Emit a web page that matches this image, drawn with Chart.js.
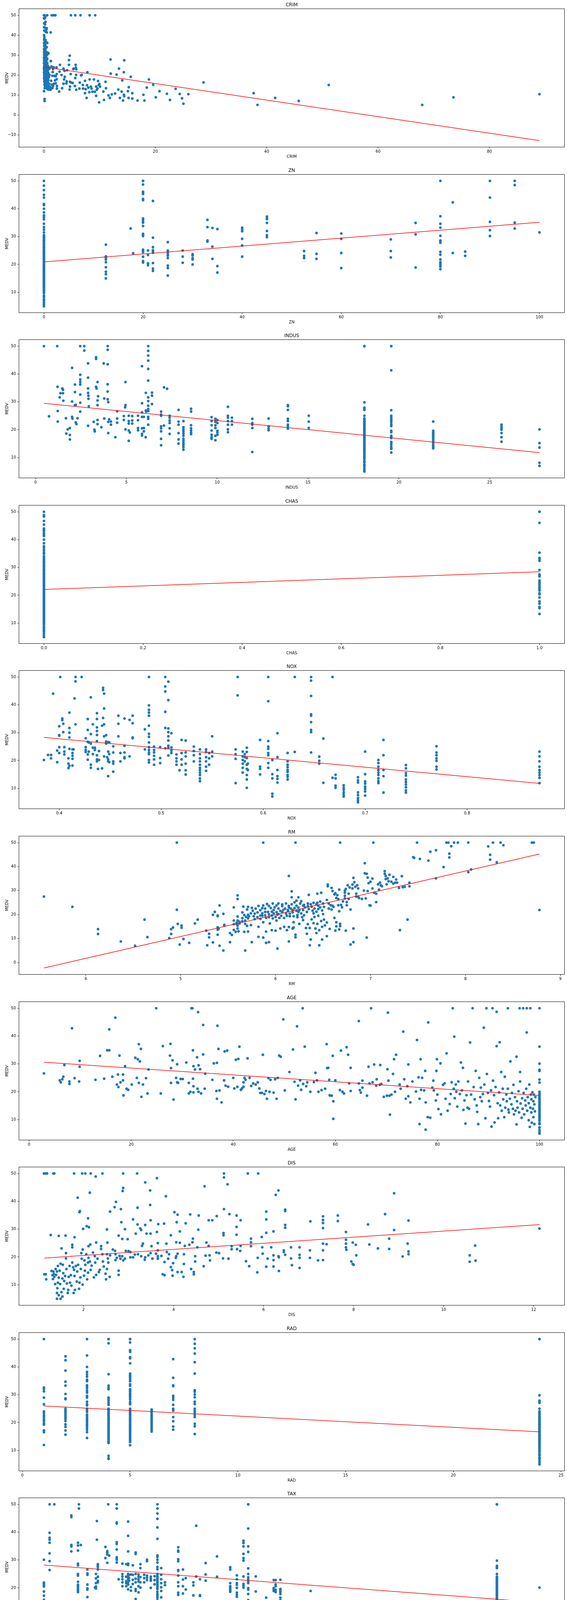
<!DOCTYPE html>
<html lang="en">
<head>
<meta charset="UTF-8">
<title>MEDV against each feature</title>
<script src="https://cdn.jsdelivr.net/npm/chart.js"></script>
<style>
  body { margin: 0; background: #fff; }
  #figure { position: relative; width: 1451px; height: 5497px; overflow: hidden; }
  .panel { position: absolute; left: 0; width: 1451px; height: 424px; }
</style>
</head>
<body>
<div id="figure"></div>
<script>
// ---- data (x = feature, y = MEDV) ----

// the 132 towns with INDUS 18.1 / RAD 24 / TAX 666 / PTRATIO 20.2 stack up in one column
const groupMedv = [50, 50, 29.8, 27.9, 27.5, 27.1, 25, 24, 23.7, 23.2, 23, 22.7, 22.2, 22, 21.7, 21.4, 21, 20.6, 20.4, 20.1,
  19.8, 19.4, 19.1, 18.8, 18.4, 18.1, 17.8, 17.4, 17.2, 16.8, 16.4, 16.1, 15.7, 15.4, 15.1, 14.9, 14.4, 14.1, 13.8, 13.4,
  13.1, 12.7, 12.5, 12.1, 11.8, 11.5, 11, 10.5, 10.2, 9.7, 9.5, 8.8, 8.5, 8.3, 7.5, 7.2, 7, 6.3, 5.6, 5];

const crimPts = [
  [0.01, 50], [0.12, 50], [0.59, 50], [1.41, 50], [1.59, 50], [1.88, 50], [2.06, 50], [4.85, 50], [5.63, 50], [6.57, 50], [8.21, 50], [9.21, 50],
  [0.02, 48.5], [0.1, 48.3], [0.25, 49], [0.05, 46], [0.2, 45.4], [0.3, 46.7], [0.03, 44], [0.15, 43.8], [0.5, 43.5], [0.45, 42.8], [0.06, 42.3],
  [0.35, 41.7], [0.02, 40], [0.08, 39], [0.05, 38], [0.1, 37.3], [0.3, 37.6], [0.2, 37], [0.4, 36.5], [0.6, 36.1], [0.04, 36], [0.12, 35.4],
  [0.25, 35], [0.06, 34.6], [0.5, 34], [0.15, 33.4], [0.02, 33], [0.3, 33.1], [0.08, 32.5], [0.2, 32], [0.45, 31.6], [0.03, 31.5], [0.7, 31],
  [0.12, 30.8], [0.35, 30.5], [0.8, 30.8], [0.05, 30.1], [0.25, 29.8], [0.55, 30], [0.1, 29.4], [0.4, 29], [0.02, 28.7], [0.2, 28.5], [0.6, 28.2],
  [0.07, 28], [0.3, 27.9], [0.15, 27.5], [0.5, 27.5], [1.25, 27], [0.04, 27.1], [0.25, 26.6], [0.4, 26.4], [0.1, 26.2], [0.6, 26], [0.02, 25.9],
  [0.2, 25.3], [0.35, 25], [0.5, 25], [0.08, 24.8], [0.7, 24.7], [0.15, 24.4], [0.3, 24.1], [1.35, 24.3], [0.04, 24], [0.45, 23.9], [0.9, 23.8],
  [0.2, 23.6], [0.6, 23.4], [0.1, 23.3], [0.35, 23.1], [1, 23.2], [0.02, 23], [0.25, 22.9], [0.5, 22.7], [0.75, 22.6], [0.12, 22.5], [0.4, 22.2],
  [0.06, 22], [0.3, 21.9], [0.65, 21.7], [0.18, 21.7], [0.5, 21.4], [1.59, 21.5], [0.03, 21.2], [0.28, 21.1], [0.8, 21], [0.1, 20.9], [0.45, 20.6],
  [0.2, 20.5], [0.6, 20.3], [0.05, 20.1], [0.35, 20], [1, 20], [0.15, 19.8], [0.5, 19.6], [1.52, 19.6], [0.25, 19.4], [0.7, 19.3], [0.08, 19.2],
  [0.4, 19.1], [0.2, 18.9], [0.9, 18.9], [0.55, 18.7], [0.12, 18.6], [0.3, 18.5], [0.04, 18.4], [0.65, 18.2], [0.22, 18.1], [0.45, 18], [0.1, 17.8],
  [0.8, 17.5], [0.35, 17.4], [1.29, 17.1], [0.18, 17.2], [0.55, 17], [0.06, 16.8], [0.28, 16.6], [0.7, 16.5], [0.15, 16.3], [0.45, 16.1], [0.95, 15.6],
  [0.25, 15.6], [0.6, 15.4], [1.41, 15.2], [0.1, 15.2], [0.4, 15], [0.8, 14.8], [1.64, 14.5], [0.2, 14.5], [0.55, 14.4], [1.1, 14.1], [0.3, 13.9],
  [0.9, 13.8], [1.52, 13.5], [0.15, 13.4], [0.5, 13.3], [1.3, 13.1], [0.7, 12.8], [1.17, 12.6], [0.02, 11.9], [0.12, 8], [0.12, 7], [0.9, 12.7],
  [1.9, 19.6], [2, 17.3], [1.8, 15.6], [0.52, 41.4], [1.22, 41.4], [0.59, 36.1], [0.7, 30.9], [0.82, 31], [1.24, 27], [1.64, 23], [1.76, 23.9],
  [2.27, 23.8], [2.3, 20.5], [2.11, 19.4], [2.3, 17.9], [2.11, 15.8], [2.34, 14.5], [2.34, 13.2], [2.88, 25.1], [2.81, 21.7], [2.74, 11.7],
  [3.17, 20], [3.52, 23.2], [3.52, 15.6], [3.28, 13.4], [3.7, 22.1], [3.75, 19.1], [3.63, 17.8], [4.17, 22.4], [4.1, 16.8], [4.03, 15.8],
  [4.5, 27.5], [4.5, 25.1], [4.64, 29.7], [4.81, 20.5], [4.69, 16.6], [4.62, 12.7], [4.69, 14.2], [4.92, 16.2], [5.16, 16], [5.28, 23],
  [5.35, 23.2], [5.7, 25.1], [5.74, 23.7], [5.81, 22.9], [5.63, 18.5], [5.79, 20.1], [5.56, 14.5], [5.81, 12.6], [6.45, 16.2], [6.38, 13.2],
  [6.68, 19.8], [6.8, 20.1], [6.99, 15], [7.03, 13.2], [7.39, 17.1], [7.39, 10.9], [7.5, 12.9], [7.67, 8.5], [7.74, 14.9], [7.81, 21.4],
  [7.97, 13.7], [8.16, 11.4], [8.21, 17.8], [8.44, 14.2], [8.56, 13.2], [8.72, 11.6], [8.98, 17.8], [9.14, 11.6], [9.38, 14.2], [9.5, 12.6],
  [9.38, 9.6], [9.73, 17], [9.85, 14.9], [9.97, 15.5], [10.08, 14.2], [9.92, 6.3], [9.61, 13.2], [10.67, 11.7], [10.79, 7.5], [11.07, 16.6],
  [11.14, 13.4], [11.6, 9.8], [11.84, 8.5], [11.96, 27.8], [12, 20.7], [12.19, 10.3], [12.78, 10.7], [13.06, 20.2], [13.36, 12.7], [13.48, 23.2],
  [13.65, 8.5], [13.95, 11.7], [14.07, 17.3], [14.21, 7.2], [14.35, 21.4], [14.42, 27.4], [14.37, 10.1], [14.42, 9.4], [15.08, 11.9], [15.19, 8.5],
  [15.24, 13.9], [15.59, 19.1], [15.87, 10.9], [15.87, 8.2], [16.81, 7.2], [17.87, 10.1], [18.05, 7.2], [18.48, 13.7], [18.85, 17.8], [19.62, 15.1],
  [20.09, 8.8], [20.75, 11.9], [22.09, 10.6], [22.63, 7.5], [23.65, 13.1], [24.39, 10.5], [24.8, 8.3], [25.05, 5.6], [25.94, 10.4], [28.66, 16.3],
  [37.66, 10.9], [38.35, 5], [41.53, 8.5], [45.75, 7], [51.14, 15], [67.92, 5], [73.53, 8.8], [88.98, 10.4]
];

const znLevels = [0, 12.5, 17.5, 18, 20, 21, 22, 25, 28, 30, 33, 34, 35, 40, 45, 52.5, 55, 60, 70, 75, 80, 82.5, 85, 90, 95, 100];
const znMedv = [
  [50, 48.3, 46.7, 45, 44, 41.7, 41.3, 40, 38.7, 37.6, 37, 36.2, 34.6, 33.4, 32.5, 31.5, 30.5, 30.1, 29.8, 29.4, 29, 28.7, 28.4, 28, 27.5,
    27.1, 26.6, 26.2, 25.9, 25.4, 25, 24.7, 24.4, 24.1, 23.8, 23.4, 23.1, 22.8, 22.5, 22.2, 21.9, 21.6, 21.3, 21, 20.7, 20.4, 20.1, 19.8,
    19.5, 19.2, 18.9, 18.6, 18.3, 18, 17.7, 17.4, 17.1, 16.8, 16.5, 16.2, 15.9, 15.6, 15.3, 15, 14.7, 14.4, 14.1, 13.8, 13.5, 13.2, 12.9,
    12.6, 12.3, 12, 11.7, 11.3, 10.9, 10.5, 10.2, 9.7, 8.8, 8.3, 7.5, 7, 6.3, 5.6, 5],
  [27.1, 22.9, 22.3, 21.8, 20.8, 19, 17.4, 16.5, 15],
  [32.9],
  [24],
  [50, 50, 48.7, 46.1, 45.7, 45.3, 43.5, 43.1, 36.5, 36, 35.3, 35, 33.8, 31, 30.6, 30.2, 25.3, 24.8, 24.4, 22.8, 21.2, 20.7],
  [25, 23.4, 20.4, 19.7],
  [42.8, 29.6, 26.2, 25.1, 24.6, 24.2, 20.5, 18.5, 17.7],
  [28, 25, 24.4, 23.8, 23.2, 22.3, 19.6, 18.7, 16],
  [25, 22.8, 20.6],
  [23.7, 23.2, 22.2, 21.8, 20],
  [36, 33.4, 28.6, 28.2],
  [33.1, 26.4, 22],
  [32.7, 19.4, 17.1],
  [33.2, 32.6, 31.9, 29.2, 26.8, 22.8],
  [37.2, 36.6, 36.3, 34.9, 32, 30.5, 29.8],
  [24.8, 23.1, 22.3],
  [31.3, 23.8, 22],
  [31.1, 29.2, 24.1, 18.7],
  [29, 24.8, 22.5],
  [34.9, 30.8, 18.9],
  [50, 37.3, 34.6, 33.2, 30.3, 28.6, 28.3, 27.8, 24.5, 23.5, 21.8, 20.8, 20.3, 20, 19.3, 18.3],
  [42.3, 24.1],
  [24.6, 23.1],
  [50, 44, 35.3, 32.3, 30.2],
  [50, 48.5, 35, 32.9],
  [31.5]
];

const indusPts = [
  [0.46, 50], [0.74, 24.8], [1.19, 50], [1.21, 35.4], [1.22, 26.7], [1.22, 22.9], [1.33, 31.6], [1.37, 33.1], [1.47, 34.8], [1.51, 34.3],
  [1.51, 33.1], [1.53, 30.4], [1.67, 24.1], [1.69, 18.6], [1.77, 20.1], [1.89, 20.6], [1.89, 18.1], [1.89, 16.5], [2.01, 42.2], [2.01, 30.1],
  [2.01, 24.6], [2.03, 24], [2.17, 36.2], [2.17, 33.5], [2.17, 28.8], [2.21, 28.9], [2.21, 22.6], [2.25, 22], [2.31, 24.1], [2.46, 50],
  [2.46, 39.7], [2.46, 38], [2.46, 37.1], [2.46, 36.2], [2.46, 32.6], [2.46, 29.7], [2.46, 26.5], [2.68, 50], [2.68, 48.4], [2.89, 43.8],
  [2.89, 38.7], [2.89, 34.8], [2.89, 33.2], [2.91, 32.2], [2.91, 31.1], [2.93, 28.4], [2.89, 21.4], [3.2, 22.8], [3.24, 20], [3.26, 19.4],
  [3.33, 46], [3.33, 45.4], [3.33, 35.4], [3.36, 34.8], [3.41, 37.1], [3.41, 23.5], [3.41, 22], [3.44, 32], [3.41, 30.5], [3.41, 28.8],
  [3.62, 20.9], [3.78, 24], [3.75, 43.8], [3.78, 31.2], [3.97, 50], [3.97, 48.7], [3.97, 43.5], [3.97, 36.3], [3.97, 33.7], [3.97, 30.9],
  [4, 29.9], [4, 22.8], [4, 18.8], [4.05, 23.7], [4.15, 22.9], [4.15, 21.8], [4.39, 17.3], [4.49, 24], [4.49, 22.5], [4.49, 26.6], [4.86, 24.9],
  [4.86, 23.5], [4.95, 37.1], [4.95, 28.8], [4.93, 28], [4.95, 20.1], [5.13, 25], [5.13, 23.1], [5.13, 22.2], [5.13, 19.7], [5.19, 19],
  [5.13, 16], [5.32, 24.9], [5.32, 23.3], [5.32, 22.2], [5.64, 25], [5.64, 23.4], [5.64, 20.6], [5.64, 19.8], [5.86, 42.8], [5.86, 29.5],
  [5.86, 26.2], [5.86, 24.6], [5.86, 20.5], [5.86, 18.5], [5.86, 17.9], [5.96, 24.6], [5.96, 20.6], [5.96, 19.4], [6.06, 17.3], [6.07, 33.2],
  [6.07, 26.9], [6.09, 26.5], [6.2, 50], [6.2, 48.3], [6.2, 46.6], [6.2, 44.8], [6.2, 41.8], [6.2, 37.6], [6.2, 31.6], [6.2, 30.3],
  [6.2, 28.6], [6.2, 27.4], [6.2, 26.7], [6.2, 24.6], [6.2, 23.9], [6.2, 21.8], [6.41, 33.3], [6.41, 32.2], [6.41, 29.2], [7.07, 35.2],
  [7.24, 34.7], [6.91, 26.5], [6.91, 25.4], [6.91, 25], [6.91, 21.2], [6.91, 20.5], [6.91, 19.4], [6.91, 16.7], [6.91, 14.4], [7.07, 21.5],
  [7.38, 25], [7.38, 24.3], [7.38, 23.3], [7.38, 22.4], [7.38, 20.5], [7.38, 18.5], [7.87, 27.1], [7.87, 22.9], [7.87, 21.8], [7.87, 18.8],
  [7.87, 16.5], [7.87, 15], [8.14, 23.1], [8.14, 20.9], [8.14, 20.1], [8.14, 19.4], [8.14, 18.6], [8.14, 17.8], [8.14, 16.7], [8.14, 16],
  [8.14, 15.2], [8.14, 14.5], [8.14, 13.7], [8.14, 12.8], [8.56, 27.5], [8.56, 26.5], [8.56, 21.6], [8.56, 20.5], [8.56, 19.7], [8.56, 19],
  [8.56, 18.4], [9.69, 24.5], [9.69, 23.1], [9.69, 21.6], [9.69, 19.7], [9.69, 18.2], [9.69, 17.3], [9.69, 16.7], [9.9, 23.9], [9.9, 22.8],
  [9.9, 21.6], [9.9, 20.6], [9.9, 17.8], [9.9, 16.2], [10.01, 23.5], [10.01, 22.4], [10.01, 19.6], [10.01, 19], [10.01, 18.2], [10.59, 28.2],
  [10.59, 25], [10.59, 24.3], [10.59, 23.1], [10.59, 21.8], [10.59, 20.1], [10.59, 19.1], [10.81, 24.3], [10.81, 23.1], [10.81, 21.8],
  [11.93, 23.9], [11.93, 22.4], [11.93, 21.8], [11.93, 20.6], [11.93, 12], [12.83, 24], [12.83, 21.2], [12.83, 20.4], [12.83, 19.8],
  [13.89, 28.8], [13.89, 28.4], [13.89, 27.1], [13.89, 23.9], [13.89, 23.1], [13.89, 21.8], [13.89, 21.2], [13.89, 20.4], [15.04, 25],
  [15.04, 22.9], [15.04, 20.6]
];
const indusLevels = [18.1, 19.58, 21.89, 25.65, 27.74];
const indusMedv = [
  groupMedv,
  [50, 50, 41.3, 27, 25, 24.4, 23.8, 23.3, 22.7, 21.9, 21.3, 19.6, 19.1, 17.8, 17.4, 17, 15.6, 15.3, 14.6, 13.8, 13.4, 13.1, 11.8],
  [22.9, 19.6, 19.1, 18.7, 18.2, 17.8, 17.4, 16.8, 16.2, 15.6, 15.2, 14.5, 14.1, 13.6, 13.3],
  [21.8, 21.2, 20.5, 20, 18.8, 17.3, 15.7],
  [20.1, 15.2, 13.6, 8.1, 7]
];

const chasLevels = [0, 1];
const chasMedv = [
  [50, 48.8, 48.3, 46.7, 45.4, 44, 43.5, 43.1, 42.3, 41.7, 41.3, 40, 38.7, 37.6, 37, 36.2, 35.4, 34.9, 34, 33.4, 32.9, 32.4, 32, 31.6,
    31.1, 30.7, 30.3, 29.9, 29.4, 29.1, 28.7, 28.2, 27.9, 27.5, 27.1, 26.6, 26.3, 25.9, 25.5, 25.1, 24.7, 24.3, 23.9, 23.5, 23.1, 22.7,
    22.3, 21.9, 21.5, 21.1, 20.7, 20.3, 19.9, 19.5, 19.1, 18.7, 18.3, 17.9, 17.5, 17.1, 16.7, 16.3, 15.9, 15.5, 15.1, 14.7, 14.3, 13.9,
    13.5, 13.1, 12.7, 12.3, 11.9, 11.5, 11.1, 10.7, 10.3, 9.8, 9.5, 8.8, 8.4, 7.9, 7.4, 7, 6.3, 5.6, 5],
  [50, 50, 46, 35.3, 33.4, 33.1, 32.4, 29.1, 27.5, 27.1, 26.8, 25.3, 24.7, 24.1, 23.4, 22.8, 22.3, 21.7, 20.7, 20.4, 19.2, 17.8, 17, 15.8, 15.4, 13.3]
];

const noxPts = [
  [0.385, 20.2], [0.389, 22], [0.392, 22], [0.392, 20.8], [0.394, 44], [0.398, 19.4], [0.398, 23.6], [0.4, 32.3], [0.4, 29.1], [0.4, 28.9],
  [0.401, 50], [0.4, 24.8], [0.4, 22.7], [0.403, 35.1], [0.403, 34.5], [0.404, 33.2], [0.404, 30.2], [0.405, 24.8], [0.405, 23.2], [0.405, 22.2],
  [0.409, 17.3], [0.409, 20.8], [0.409, 18.9], [0.41, 18.1], [0.41, 37.2], [0.41, 31.7], [0.41, 30], [0.41, 28.3], [0.41, 24.2], [0.413, 24],
  [0.413, 22.7], [0.413, 21.7], [0.413, 20.6], [0.413, 18.2], [0.414, 24], [0.415, 42.3], [0.416, 50], [0.416, 48.4], [0.416, 33], [0.422, 50],
  [0.426, 28], [0.426, 24.8], [0.426, 23.1], [0.426, 23.8], [0.428, 34.9], [0.428, 31], [0.428, 26.7], [0.428, 22.2], [0.428, 20.3], [0.429, 23.2],
  [0.429, 26.5], [0.431, 42.7], [0.431, 29.5], [0.431, 26.1], [0.431, 18.5], [0.431, 17.4], [0.433, 33], [0.433, 22.3], [0.433, 24.6], [0.435, 24.6],
  [0.435, 23.8], [0.437, 37], [0.437, 34.9], [0.437, 31.9], [0.437, 30.6], [0.437, 29.2], [0.437, 27], [0.437, 21.9], [0.437, 20.4], [0.437, 19.7],
  [0.438, 17], [0.439, 23.4], [0.439, 20.2], [0.442, 17.2], [0.442, 32.5], [0.443, 46.1], [0.443, 45.3], [0.443, 35.3], [0.444, 44], [0.444, 38.7],
  [0.444, 33], [0.444, 28.7], [0.444, 21.5], [0.446, 29.1], [0.446, 26.8], [0.446, 26.1], [0.447, 21.2], [0.448, 20.4], [0.448, 19.7], [0.448, 26.6],
  [0.449, 26.5], [0.448, 23.2], [0.449, 22.3], [0.449, 19.4], [0.448, 14.4], [0.453, 25.1], [0.453, 22.9], [0.453, 19.7], [0.453, 18.9], [0.453, 16],
  [0.458, 36.1], [0.458, 33.2], [0.458, 28.7], [0.46, 22.7], [0.46, 19.7], [0.464, 35.1], [0.464, 25.3], [0.464, 22.9], [0.464, 21.2], [0.464, 20.8],
  [0.469, 34.6], [0.469, 21.5], [0.472, 36.1], [0.472, 33.4], [0.472, 28.3], [0.472, 28], [0.484, 31.2], [0.484, 24], [0.488, 50], [0.488, 39.8],
  [0.488, 38.2], [0.488, 37.2], [0.488, 36.1], [0.488, 32.5], [0.488, 29.6], [0.488, 28.5], [0.488, 26.5], [0.488, 24.8], [0.488, 23.8], [0.488, 22.9],
  [0.488, 22.3], [0.488, 20.2], [0.488, 19.3], [0.493, 25], [0.493, 23.8], [0.493, 22.9], [0.493, 21.7], [0.493, 20.4], [0.493, 18.5], [0.499, 24.8],
  [0.499, 20.9], [0.499, 19.1], [0.504, 50], [0.504, 46.6], [0.504, 44.8], [0.504, 37.5], [0.504, 31.7], [0.504, 24.4], [0.507, 48.3], [0.507, 41.7],
  [0.507, 31.5], [0.507, 30.2], [0.507, 28.7], [0.507, 27.2], [0.507, 25.3], [0.507, 24.6], [0.507, 21.8], [0.51, 29.8], [0.51, 24.7], [0.51, 23.6],
  [0.51, 22.7], [0.515, 22.2], [0.515, 20.8], [0.515, 19.7], [0.515, 18.5], [0.518, 16.5], [0.52, 27.4], [0.52, 22.7], [0.52, 20.4], [0.52, 18.5],
  [0.524, 27.2], [0.524, 22.9], [0.524, 21.5], [0.524, 18.9], [0.524, 16.5], [0.524, 15], [0.532, 25], [0.532, 23.4], [0.532, 21.9], [0.532, 19.7],
  [0.538, 24], [0.538, 22.3], [0.538, 20.8], [0.538, 19.7], [0.538, 18.5], [0.538, 17.4], [0.538, 16.6], [0.538, 15.7], [0.538, 14.8], [0.538, 13.6],
  [0.538, 12.6], [0.544, 24], [0.544, 23.1], [0.544, 21.2], [0.544, 19.7], [0.544, 17.8], [0.544, 16.3], [0.547, 22.7], [0.547, 20.8], [0.547, 18.5],
  [0.55, 28.7], [0.55, 23.2], [0.55, 21.5], [0.573, 24], [0.573, 22.3], [0.573, 20.6], [0.573, 11.9], [0.575, 50], [0.575, 43.4], [0.58, 23.2],
  [0.58, 21.5], [0.58, 20.2], [0.58, 18.9], [0.58, 17.4], [0.58, 15.7], [0.582, 22.3], [0.582, 21.2], [0.582, 19.7], [0.584, 24.6], [0.584, 23.1],
  [0.584, 20.9], [0.584, 18.5], [0.584, 17], [0.584, 14.8], [0.584, 13.2], [0.584, 10.2], [0.585, 18.9], [0.585, 16.6], [0.597, 17.8], [0.597, 17],
  [0.597, 15], [0.597, 27.4], [0.605, 50], [0.605, 41.3], [0.605, 27], [0.605, 25], [0.605, 24.2], [0.605, 22.7], [0.605, 21.9], [0.605, 19.1],
  [0.605, 17.4], [0.609, 20.2], [0.609, 15.1], [0.609, 13.6], [0.609, 8.1], [0.609, 7.1], [0.614, 29.8], [0.614, 21.2], [0.614, 16.6], [0.614, 14.4],
  [0.614, 13.4], [0.614, 12.1], [0.624, 22.7], [0.624, 19.7], [0.624, 18.5], [0.624, 17.6], [0.624, 16.6], [0.624, 15.9], [0.624, 14.8], [0.624, 14.2],
  [0.624, 13.2], [0.631, 50], [0.631, 23.1], [0.647, 50], [0.647, 48.7], [0.647, 43.2], [0.647, 36.6], [0.647, 36.1], [0.647, 33.8], [0.647, 31],
  [0.647, 30.2], [0.647, 22.9], [0.655, 21.4], [0.655, 19.9], [0.655, 18.9], [0.659, 27.9], [0.659, 12], [0.668, 50], [0.668, 13.8], [0.671, 14.9],
  [0.671, 13.6], [0.671, 11], [0.671, 10.2], [0.679, 11.1], [0.679, 10.2], [0.679, 9.5], [0.679, 8.6], [0.679, 7.8], [0.679, 7.1], [0.693, 14],
  [0.693, 12.9], [0.693, 12.1], [0.693, 8.6], [0.693, 7.6], [0.693, 6.5], [0.693, 5.7], [0.693, 5], [0.7, 23.2], [0.7, 15.1], [0.7, 12.5],
  [0.7, 11.7], [0.7, 10.6], [0.7, 9.8], [0.7, 8.9], [0.7, 7.4], [0.713, 20.2], [0.713, 19.1], [0.713, 17.8], [0.713, 16.6], [0.713, 15.7],
  [0.713, 14.8], [0.713, 13.6], [0.713, 12.6], [0.713, 11.9], [0.718, 27.4], [0.718, 21.9], [0.718, 16.6], [0.718, 14.4], [0.718, 8.5], [0.74, 18.4],
  [0.74, 17.2], [0.74, 15.5], [0.74, 14.6], [0.74, 13.2], [0.74, 12.3], [0.74, 11.4], [0.74, 10.4], [0.74, 9.3], [0.74, 8.5], [0.77, 25.1],
  [0.77, 22.9], [0.77, 21.9], [0.77, 20.8], [0.77, 19.9], [0.77, 17.8], [0.77, 16.8], [0.871, 23.2], [0.871, 21.5], [0.871, 19.7], [0.871, 17.8],
  [0.871, 16.6], [0.871, 15.7], [0.871, 14.8], [0.871, 13.8], [0.871, 11.9]
];

const rmPts = [
  [3.56, 27.5], [3.86, 23.2], [4.13, 13.9], [4.13, 11.9], [4.37, 8.8], [4.52, 7], [4.62, 17.9], [4.65, 10.6], [4.88, 10.2], [4.9, 13.9],
  [4.9, 11.9], [4.92, 14.6], [4.96, 50], [4.96, 22], [4.97, 16.1], [4.99, 7.5], [5.01, 15.4], [5.01, 14.5], [5.03, 9.8], [5.09, 8.2],
  [5.15, 16.3], [5.18, 17.9], [5.27, 13.3], [5.28, 7.2], [5.3, 12], [5.3, 10.5], [5.34, 19.9], [5.34, 8.4], [5.36, 21.1], [5.39, 19.6],
  [5.39, 19.3], [5.39, 11.6], [5.39, 14.7], [5.39, 13.7], [5.41, 23.8], [5.41, 7], [5.4, 14], [5.45, 20.3], [5.45, 5], [5.46, 15.7],
  [5.46, 15.5], [5.52, 12.3], [5.52, 8.5], [5.54, 11.5], [5.56, 23], [5.56, 17.5], [5.56, 16], [5.56, 13.6], [5.58, 12.8], [5.59, 16],
  [5.59, 16.6], [5.6, 28], [5.6, 26.5], [5.6, 19.2], [5.6, 17.5], [5.6, 15.4], [5.6, 14.2], [5.61, 13], [5.62, 16.3], [5.62, 17],
  [5.65, 20.9], [5.65, 18.5], [5.65, 17.2], [5.66, 23.3], [5.67, 19.8], [5.67, 12.8], [5.68, 5], [5.68, 17.5], [5.68, 16.1], [5.7, 15.3],
  [5.69, 19], [5.7, 22.1], [5.71, 23.2], [5.71, 19.9], [5.71, 18.4], [5.71, 12.9], [5.72, 19.3], [5.74, 20.5], [5.74, 15.6], [5.75, 22.8],
  [5.75, 8.5], [5.76, 21.6], [5.77, 19.3], [5.78, 20.4], [5.78, 18.1], [5.79, 22.5], [5.81, 20.9], [5.81, 18.9], [5.82, 23.6], [5.82, 14.9],
  [5.82, 10.7], [5.84, 19.6], [5.84, 21.8], [5.84, 18.2], [5.86, 22.7], [5.86, 20.5], [5.86, 19.5], [5.87, 16.8], [5.87, 50], [5.87, 23.8],
  [5.87, 10.4], [5.89, 22.5], [5.89, 21.1], [5.89, 19.7], [5.9, 8.2], [5.9, 12.9], [5.9, 18.6], [5.91, 24.4], [5.92, 21.1], [5.93, 8.5],
  [5.93, 23.6], [5.93, 20.1], [5.93, 18.9], [5.94, 16.3], [5.95, 22.7], [5.96, 21.2], [5.96, 19.6], [5.96, 13.5], [5.97, 24.6], [5.97, 18.4],
  [5.98, 21.9], [5.98, 20.5], [5.99, 23], [6, 19], [6, 13.3], [6.01, 23.8], [6.01, 17.5], [6.01, 21], [6.02, 20], [6.02, 5.8], [6.03, 24.6],
  [6.03, 22.5], [6.03, 20.2], [6.04, 18.6], [6.05, 14.2], [6.05, 21.5], [6.06, 19.5], [6.07, 23.5], [6.07, 24.2], [6.07, 21], [6.08, 21.9],
  [6.09, 14.9], [6.09, 18.6], [6.1, 22.5], [6.11, 20.4], [6.11, 24.6], [6.12, 13.5], [6.12, 19.5], [6.13, 21.9], [6.13, 21.4], [6.14, 23.6],
  [6.14, 23], [6.14, 36.1], [6.14, 14.8], [6.14, 8.8], [6.15, 20.4], [6.15, 19.3], [6.16, 22.5], [6.17, 29.7], [6.17, 27.2], [6.17, 24.3],
  [6.18, 21.9], [6.18, 14.2], [6.18, 20.9], [6.19, 16.8], [6.19, 14.6], [6.19, 19.3], [6.2, 22.7], [6.2, 25.1], [6.21, 50], [6.21, 11.6],
  [6.21, 10.5], [6.22, 21.6], [6.22, 25.8], [6.22, 23.7], [6.23, 19.8], [6.23, 18.9], [6.24, 21.1], [6.24, 27.2], [6.24, 22.9], [6.25, 16.1],
  [6.25, 21.8], [6.26, 24.6], [6.27, 20.5], [6.27, 25.6], [6.28, 18.9], [6.29, 23.7], [6.29, 21.9], [6.29, 17.7], [6.3, 19.7], [6.3, 24],
  [6.31, 23], [6.32, 14.4], [6.33, 21.1], [6.33, 12], [6.34, 24.6], [6.34, 16], [6.34, 23.5], [6.35, 22.3], [6.35, 28.2], [6.36, 14.4],
  [6.36, 7.2], [6.37, 24.3], [6.37, 9.6], [6.38, 18], [6.38, 23.3], [6.39, 21.6], [6.4, 16.4], [6.4, 24.9], [6.4, 20.5], [6.41, 22.5],
  [6.41, 19], [6.42, 14.2], [6.43, 24.3], [6.43, 21.2], [6.43, 12.3], [6.44, 28.7], [6.44, 16.1], [6.44, 24.9], [6.45, 22.3], [6.45, 23.7],
  [6.45, 19.5], [6.46, 13.5], [6.46, 7.2], [6.47, 25.4], [6.47, 23], [6.48, 29.1], [6.48, 17.3], [6.49, 21.7], [6.49, 9.6], [6.49, 14.9],
  [6.5, 20.2], [6.5, 24.6], [6.51, 23.2], [6.51, 17.9], [6.52, 15.5], [6.54, 26.1], [6.54, 16.7], [6.54, 11], [6.55, 31.8], [6.55, 32.5],
  [6.56, 24.6], [6.56, 22.5], [6.57, 14], [6.58, 23.9], [6.59, 22.1], [6.59, 31.1], [6.6, 29.8], [6.6, 23.7], [6.61, 23.2], [6.62, 28.4],
  [6.62, 18.6], [6.63, 13.3], [6.63, 28.9], [6.64, 26.9], [6.64, 16.8], [6.64, 15.1], [6.65, 28.1], [6.66, 26.5], [6.66, 23.9], [6.67, 30.4],
  [6.67, 13.8], [6.67, 21.4], [6.68, 15.2], [6.68, 16.1], [6.69, 24], [6.68, 50], [6.7, 23], [6.71, 25.5], [6.73, 29.1], [6.73, 27.8],
  [6.73, 26.7], [6.73, 30], [6.74, 13.3], [6.74, 30.7], [6.75, 23.9], [6.75, 25.2], [6.76, 32.2], [6.77, 28.7], [6.77, 26.5], [6.78, 31.3],
  [6.79, 22.1], [6.79, 7.5], [6.81, 32.5], [6.81, 30.9], [6.82, 8.5], [6.82, 14.2], [6.82, 35.3], [6.83, 33.5], [6.84, 31.6], [6.85, 28.7],
  [6.85, 27.5], [6.86, 32.2], [6.87, 27.4], [6.87, 30.9], [6.88, 26.9], [6.91, 26.5], [6.93, 30], [6.94, 41.4], [6.94, 37.2], [6.95, 26.7],
  [6.96, 37], [6.96, 10.4], [6.97, 35.4], [6.97, 29.8], [6.98, 33.1], [6.99, 23.9], [7, 33.7], [7, 23.7], [7.03, 50], [7.02, 35],
  [7.02, 30.9], [7.04, 29.1], [7.06, 28.7], [7.06, 25.2], [7.08, 32.6], [7.09, 30.4], [7.1, 33.3], [7.11, 32.2], [7.12, 31.8], [7.15, 37],
  [7.15, 38.1], [7.16, 36.1], [7.16, 34.8], [7.17, 32.6], [7.18, 35.1], [7.19, 33.9], [7.2, 36.6], [7.22, 33.7], [7.24, 35.7], [7.24, 32.9],
  [7.26, 33.3], [7.27, 34.6], [7.28, 33.3], [7.3, 31.1], [7.31, 13.5], [7.33, 36], [7.34, 31.4], [7.36, 31.6], [7.39, 17.9], [7.41, 33.3],
  [7.41, 31.8], [7.45, 43.9], [7.46, 43.6], [7.49, 50], [7.52, 43.2], [7.61, 42.5], [7.63, 46.2], [7.69, 35.1], [7.69, 46.8], [7.77, 39.8],
  [7.8, 50], [7.82, 50], [7.85, 48.5], [7.83, 45.4], [7.83, 43.8], [7.88, 50], [7.92, 50], [8.03, 50], [8.03, 37.7], [8.06, 38.8],
  [8.24, 48.4], [8.26, 44.9], [8.26, 42.9], [8.29, 50], [8.33, 41.8], [8.37, 50], [8.4, 48.9], [8.7, 50], [8.72, 50], [8.78, 21.9]
];

const agePts = [
  [2.9, 26.6], [6, 24.1], [6.2, 23.4], [6.5, 24.5], [6.7, 25.4], [6.9, 29.6], [7.9, 23.7], [7.9, 22.8], [8.4, 42.8], [8.9, 24.9], [9.8, 23.7],
  [9.9, 31.1], [9.9, 29], [13, 24.3], [13.9, 32.9], [14.7, 24.7], [15.3, 34.9], [15.7, 34.9], [15.7, 42.4], [16.3, 25.4], [16.9, 46.6],
  [17.2, 22.6], [17.5, 21.7], [17.4, 26.2], [17.7, 33], [17.9, 23.4], [18.4, 26.2], [18.4, 24.1], [18.5, 18.7], [18.8, 29.2], [19.1, 21.1],
  [19.4, 20.7], [20.1, 22.6], [20.8, 32.2], [21.1, 25], [21.3, 31.7], [21.5, 37.1], [21.5, 23.2], [21.7, 30.9], [21.9, 35.4], [22, 18.2],
  [22.3, 22.6], [22.9, 24.9], [23.2, 19.4], [23.4, 28], [25.8, 19.4], [24.9, 50], [26.2, 36.4], [27.6, 33], [27.7, 37.2], [27.8, 28.5],
  [27.8, 23.2], [28.3, 17.2], [28.1, 31.3], [28.8, 25], [29, 29.9], [29, 23.4], [29.2, 23.2], [29.7, 24.6], [30.1, 24.6], [30.8, 30.5],
  [31.3, 23.2], [31.3, 19.4], [31.6, 20], [31.8, 50], [32, 50], [32.1, 34.9], [32.1, 24.7], [32.2, 29.2], [32.2, 22], [32.2, 19.8], [32.5, 28],
  [32.9, 32.4], [33, 21.1], [33.1, 48.6], [33.2, 29.5], [33.2, 20], [33.5, 28.1], [33.7, 19.4], [34.1, 44], [34.1, 33.4], [34.4, 21.1],
  [34.5, 26.5], [35.9, 24.3], [36.2, 30.2], [36.7, 20.3], [36.8, 17.5], [36.8, 30.4], [36.9, 43.7], [37.1, 35.4], [37.3, 20.5], [37.7, 16.2],
  [38.2, 24.1], [38.3, 34.5], [38.5, 22.2], [38.8, 34.8], [39, 21.8], [40, 25], [40.2, 21.2], [40.5, 31.5], [40.8, 21.8], [41, 31.8],
  [41.2, 36.2], [41.5, 20.7], [41.7, 21.2], [42, 23.4], [42, 21.8], [42.2, 25], [42.4, 24.3], [42.8, 32], [43.2, 25], [43.5, 22.1], [43.9, 23],
  [44.4, 22.6], [44.8, 23.4], [45.1, 21.2], [45.3, 19.6], [45.6, 19.6], [45.8, 33.3], [46.1, 19.2], [46.4, 20.3], [46.6, 17.5], [46.9, 24.9],
  [47.1, 20], [47.3, 24.3], [47.9, 19.7], [48.2, 24.5], [48.5, 17.5], [48.7, 25], [49, 33], [49.3, 32.6], [49.8, 46], [50.1, 20.5], [51, 27.1],
  [51.7, 35.2], [52, 23.6], [52.2, 17.3], [52.5, 43.5], [52.7, 22.2], [53.1, 24.1], [53.3, 20.7], [53.6, 50], [53.7, 22.8], [54, 36.2],
  [54.3, 22], [54.5, 23.4], [55.1, 20], [55.8, 23.5], [56.1, 26.8], [56.4, 24.1], [56.7, 20], [57.3, 20.6], [58, 21.1], [58.3, 37.1],
  [58.4, 28.5], [58.6, 28.6], [58.8, 24.3], [58.9, 18.7], [59.3, 18.6], [59.5, 32.9], [59.6, 16.6], [59.6, 10.3], [60, 24.1], [60.9, 20.6],
  [61.1, 34.8], [61.4, 20], [61.7, 19.4], [62.2, 36], [62.5, 33.3], [62.7, 23], [63, 28.6], [63, 20.3], [64.6, 23], [64.6, 45.4], [64.8, 20.6],
  [65, 19.7], [65.3, 24], [65.3, 21.5], [66.2, 18.6], [66.5, 29], [66.7, 23], [67, 50], [67.3, 23.4], [67.6, 29.8], [68, 22.2], [68.1, 24.5],
  [68.7, 22.5], [68.8, 29.6], [69, 22.8], [69.5, 18.2], [70.1, 18.6], [70.2, 28.1], [70.3, 48.4], [70.4, 24], [70.6, 18.6], [70.7, 11.8],
  [71, 19], [71.3, 26.4], [71.5, 31.7], [71.7, 20], [71.9, 33.3], [72.6, 22.6], [72.8, 21.1], [73.3, 41.6], [73.5, 24.5], [73.8, 17.5],
  [74.1, 22], [74.3, 29.8], [74.3, 18.4], [74.7, 16.2], [75.1, 23.7], [75.8, 20.1], [76, 38.6], [76.3, 25.2], [76.5, 17.5], [76.5, 8.4],
  [76.7, 31.7], [76.8, 20.7], [77, 25], [77.4, 20.5], [77.6, 27.5], [77.7, 16.2], [77.7, 6.4], [78.1, 10.9], [78.2, 44.9], [78.6, 10.7],
  [79, 21.5], [79.2, 24], [79.3, 20.5], [79.7, 16.9], [79.8, 27.5], [79.9, 31.7], [80, 19], [80.2, 13.8], [80.6, 30.2], [80.7, 11.9],
  [81.1, 22.5], [81.4, 23], [81.6, 17.5], [81.8, 33.8], [82, 13.2], [82.4, 15.6], [82.6, 19.2], [82.8, 23.4], [83, 50], [83.2, 21.1],
  [83.3, 39.8], [83.4, 17.7], [83.6, 22.6], [83.7, 20], [83.9, 14.7], [84.1, 23.7], [84.4, 19.2], [84.6, 30.5], [84.8, 20.5], [85, 28.6],
  [85.1, 13.5], [85.3, 16.9], [85.5, 8.6], [85.7, 18.8], [85.9, 14.3], [86, 23.7], [86.2, 13.9], [86.4, 37.7], [86.6, 19], [86.9, 50],
  [87.1, 21.7], [87.3, 17.3], [87.5, 27.5], [87.7, 15.1], [87.8, 12.8], [88, 8.4], [88.2, 25], [88.4, 18.1], [88.5, 21.5], [88.7, 16.6],
  [88.9, 19.2], [89.1, 43], [89.2, 22.6], [89.4, 10.5], [89.6, 50], [89.7, 26.4], [89.9, 19.6], [90.1, 16.7], [90.3, 14.7], [90.5, 20.5],
  [90.6, 7.5], [90.8, 50], [90.9, 24], [91.1, 18.8], [91.2, 9], [91.4, 21.7], [91.6, 48.7], [91.6, 36.4], [91.8, 15.9], [91.9, 10.5],
  [92.1, 19.8], [92.2, 37.8], [92.3, 15.1], [92.5, 27.1], [92.6, 13.2], [92.8, 21.1], [92.9, 17.3], [93.1, 10.9], [93.2, 25.4], [93.3, 14.3],
  [93.5, 19], [93.6, 16.6], [93.8, 21.1], [93.8, 50], [93.9, 13.6], [94, 12.6], [94.2, 17.5], [94.3, 30.9], [94.5, 15.5], [94.6, 19.6],
  [94.8, 13.9], [94.9, 22.5], [95, 11.9], [95.2, 18.1], [95.3, 13.2], [95.5, 32.6], [95.5, 8.3], [95.6, 16.6], [95.7, 14.3], [95.9, 20.2],
  [96, 12.6], [96.1, 50], [96.2, 27.1], [96.2, 23.7], [96.3, 15.8], [96.5, 10.7], [96.6, 17.7], [96.7, 13.9], [96.8, 50], [96.9, 19.6],
  [97, 11.9], [97.2, 16.9], [97.3, 15.1], [97.4, 21.1], [97.5, 50], [97.5, 41.3], [97.6, 13.2], [97.7, 18.1], [97.9, 9.8], [97.9, 15.9],
  [98, 22.6], [98.1, 7.4], [98.2, 14.3], [98.2, 50], [98.3, 19], [98.4, 12.6], [98.4, 17.3], [98.5, 8.9], [98.6, 19.8], [98.7, 13.9],
  [98.8, 10.9], [98.8, 16.6], [98.9, 19], [99, 15.5], [99, 8.4], [99.1, 13], [99.2, 18.1]
];
const age100Medv = [50, 36.2, 30.1, 27.9, 27.5, 24.4, 23.3, 20, 19.4, 18.8, 18.4, 17.8, 17.3, 16.8, 16.3, 15.8, 15.3, 14.8, 14.3, 13.8,
  13.3, 12.8, 12.3, 11.7, 11.3, 10.8, 10.3, 9.7, 8.8, 8.4, 7.2, 6.3, 5.6, 5];

const disPts = [
  [1.12, 50], [1.16, 50], [1.19, 50], [1.33, 50], [1.35, 50], [1.79, 50], [1.97, 50], [2.04, 50], [2.16, 50], [2.42, 50], [2.88, 50], [3.19, 50],
  [5.12, 50], [5.65, 50], [5.88, 50], [2.27, 48.9], [3.63, 48.3], [5.12, 48.6], [3.37, 46.8], [5.2, 46.1], [4.69, 45.4], [2.88, 44.8],
  [2.87, 43.7], [3.48, 43.9], [6.33, 43.9], [2.14, 43.1], [8.9, 42.9], [6.27, 42.3], [3.83, 41.8], [1.87, 41.3], [2.72, 39.8], [3.48, 38.7],
  [2.69, 37.9], [3.2, 37.7], [2.83, 37.2], [5.12, 37.2], [6.48, 37], [6.48, 36.5], [1.91, 36.1], [1.92, 36.5], [2.59, 36.3], [6.06, 36.3],
  [4.02, 36.1], [5.24, 35.4], [8.7, 35.4], [4.37, 35.3], [4.09, 35.2], [7.32, 34.6], [4.56, 34.9], [4.96, 34.7], [5.4, 34.9], [7.65, 34.9],
  [2.1, 33.9], [3.1, 33.5], [4.78, 33.2], [4.86, 33.2], [3.49, 33.2], [5.49, 33.2], [6.06, 33.5], [7.32, 33.3], [7.32, 32.2], [7.65, 32.9],
  [9.22, 33.1], [2.84, 32.5], [3.79, 32], [4.27, 32.1], [4.07, 32.5], [3.66, 31.8], [7.04, 32.8], [8.32, 31.7], [3.37, 31.5], [3.2, 31.7],
  [2.07, 31.1], [2.12, 30.7], [5.4, 30.8], [6.48, 31.5], [6.48, 30.5], [7.32, 30.4], [1.99, 30.1], [2.52, 29.9], [2.92, 30], [4.55, 29.8],
  [12.13, 30.2], [8.9, 29.7], [6.22, 29.2], [3.26, 30.3], [3.28, 29.7], [3.16, 28.4], [3.4, 28.4], [3.49, 28.4], [3.63, 29], [4.14, 29.2],
  [5.11, 28.6], [5.11, 27.8], [6.06, 28.7], [7.83, 29], [1.27, 27.9], [1.6, 27.7], [1.45, 27.6], [1.8, 27.1], [2.78, 27.7], [3.94, 27.8],
  [5.4, 28], [2.86, 26.5], [2.98, 26.4], [4.43, 26.6], [5.72, 26.6], [7.83, 26.2], [8.79, 26.6], [5.96, 27.2], [2.28, 25.2], [2.53, 25.2],
  [5.72, 25.3], [4.73, 25.2], [3.84, 24.8], [4.06, 25.3], [4.14, 25.1], [4.42, 25.3], [1.75, 24.4], [2.15, 24.5], [3.32, 24.8], [3.65, 25],
  [7.32, 24.8], [7.4, 24.6], [7.83, 24.8], [7.98, 25.2], [9.2, 24.8], [10.7, 24.1], [8.35, 24.5], [8.05, 24.4], [6.61, 23.5], [6.8, 23.5],
  [7.83, 23.5], [8.54, 23.1], [8.79, 22.9], [4.78, 24], [4.35, 24.4], [4.25, 24], [3.3, 24], [3.51, 23.9], [4.53, 23.5], [2.11, 23.9],
  [2.39, 23.9], [1.51, 23.1], [1.75, 23.5], [1.98, 22.7], [5.29, 23.9], [5.49, 24], [6.17, 23.5], [5.29, 22.8], [5.41, 22.8], [5.48, 22.2],
  [5.72, 23.9], [5.97, 23.5], [6.45, 22.4], [7.03, 22.4], [7.32, 22.4], [7.84, 22.6], [9.22, 22], [9.22, 21], [9.09, 20.2], [10.58, 20.6],
  [10.58, 18.3], [10.71, 18.7], [8.06, 20.6], [7.95, 18.4], [7.98, 17.5], [8, 17.2], [7.32, 18.9], [7.21, 18.8], [7.03, 19.7], [6.8, 20.8],
  [6.8, 19.7], [6.8, 16.1], [6.61, 19.5], [6.63, 17.1], [6.48, 20.8], [6.45, 21.8], [6.34, 19.9], [6.33, 20.3], [6.22, 20.6], [6.22, 18.9],
  [6.22, 16.6], [6.09, 19.4], [5.98, 21.2], [6.06, 16.5], [6.34, 15], [5.87, 19.7], [5.86, 14.5], [5.68, 16.7], [5.61, 18.5], [5.22, 19.4],
  [5.1, 19.5], [5.01, 21.4], [4.95, 21.6], [4.8, 20.6], [4.81, 18.8], [4.71, 20.5], [4.67, 16.7], [4.48, 20.3], [4.48, 18.4], [4.45, 14.6],
  [4.45, 13.8], [4.39, 15.7], [4.23, 21], [4.23, 17.5], [4.22, 12.9], [4.18, 14.6], [4.09, 14.6], [4.09, 21.2], [4.06, 20.3], [4.05, 19.7],
  [3.99, 17.8], [3.97, 15.3], [3.98, 13.3], [3.94, 16.4], [3.9, 21], [3.88, 19.4], [3.85, 21.8], [3.8, 18.2], [3.8, 13.5], [3.76, 13.8],
  [3.73, 20.4], [3.65, 19.4], [3.65, 20.3], [3.61, 21.2], [3.65, 22.4], [3.53, 19.4], [3.49, 21.4], [3.44, 20.6], [3.36, 19], [3.37, 19.9],
  [3.28, 20.3], [3.21, 21], [3.14, 20.9], [3.1, 19.9], [3.04, 19.9], [3.04, 21.8], [3, 22.1], [2.94, 22.2], [2.92, 19.4], [2.88, 18.8],
  [2.86, 20.3], [2.82, 19.4], [2.8, 20.4], [2.78, 15.1], [2.78, 13.6], [2.74, 19.7], [2.71, 18.9], [2.71, 21], [2.7, 22.2], [2.65, 22.7],
  [2.59, 20.6], [2.58, 12.9], [2.55, 18], [2.54, 19.5], [2.52, 21], [2.52, 15.7], [2.5, 12], [2.49, 14], [2.45, 16.6], [2.43, 18.4],
  [2.42, 21], [2.39, 22.9], [2.36, 15.4], [2.34, 14.6], [2.31, 19.4], [2.28, 13.6], [2.26, 18], [2.25, 20.3], [2.23, 12.7], [2.21, 21.6],
  [2.18, 16.9], [2.16, 15.4], [2.14, 18.4], [2.11, 19.7], [2.1, 18], [2.1, 14.4], [2.08, 12], [2.06, 21], [2.04, 17.2], [2.03, 15.1],
  [2.02, 18.8], [2.01, 13.3], [1.98, 10.1], [1.96, 19.4], [1.95, 21.4], [1.94, 15.7], [1.93, 12.7], [1.91, 10.8], [1.9, 8.6], [1.88, 17.2],
  [1.86, 14.8], [1.85, 11.2], [1.83, 16.8], [1.81, 8.2], [1.8, 13.2], [1.79, 15.4], [1.78, 7.1], [1.77, 16.3], [1.75, 18], [1.73, 9.7],
  [1.72, 13.5], [1.7, 10.8], [1.69, 16.8], [1.67, 12.9], [1.66, 8.2], [1.65, 7.1], [1.63, 10.5], [1.62, 15.7], [1.61, 19.5], [1.61, 21.4],
  [1.59, 13.2], [1.57, 11.4], [1.56, 8.6], [1.55, 14.2], [1.54, 17.2], [1.53, 12.3], [1.53, 5.8], [1.51, 7.4], [1.49, 17.6], [1.48, 10.3],
  [1.47, 15.1], [1.45, 12.6], [1.45, 6.3], [1.43, 16.8], [1.43, 10.8], [1.42, 8.8], [1.41, 14.8], [1.41, 7.1], [1.41, 5], [1.39, 13.6],
  [1.38, 15.7], [1.37, 10.3], [1.35, 12.9], [1.34, 13.9], [1.33, 14.8], [1.32, 12.1], [1.31, 13.5], [1.29, 15], [1.49, 5], [1.17, 12],
  [1.13, 13.8], [1.16, 13.8]
];

const radLevels = [1, 2, 3, 4, 5, 6, 7, 8, 24];
const radMedv = [
  [50, 32.6, 32.1, 31.2, 29, 26.6, 24, 23.4, 22.6, 22, 21.2, 20.6, 19.8, 19.3, 17.2, 16.6, 12],
  [43.8, 42.4, 38.7, 34.7, 33.3, 30.3, 28.7, 28.4, 25, 24.4, 23.9, 23.3, 22.6, 22, 21.4, 20.6, 19.4, 18.5, 17.2, 15.7],
  [50, 44.1, 40, 38.2, 37.3, 36.5, 35.4, 34.9, 33.4, 33.1, 32.4, 31.5, 30.8, 29.6, 29, 27.5, 26.6, 26.2, 25, 24.5, 23.9, 22.9, 22.4,
    21.8, 21.2, 20.6, 20, 19.3, 18.9, 18.2, 17.5, 16.6, 14.5],
  [50, 50, 48.5, 37.4, 33.3, 32.5, 32, 29, 28.5, 27.9, 27.1, 26.4, 25, 24.6, 24.3, 23.8, 23.4, 23.1, 22.6, 22.2, 21.7, 21.4, 21, 20.6,
    20.1, 19.8, 19.4, 18.9, 18.6, 18.2, 17.8, 17.4, 17.1, 16.6, 16.2, 15.7, 15.4, 15, 14.6, 14.1, 13.8, 13.3, 13.1, 12.7, 8.1, 7.2, 7],
  [50, 50, 48.8, 46, 45.4, 43.5, 43.1, 41.3, 37.6, 37, 36.5, 36.1, 35.4, 34.9, 33.8, 33.2, 32, 31.6, 31.1, 30.5, 30.1, 29.6, 29.1, 28.4,
    27.5, 27.1, 26.6, 25, 24.5, 24.1, 23.7, 23.3, 22.9, 22.6, 22.1, 21.7, 21.2, 20.9, 20.5, 20.1, 19.6, 19.3, 18.9, 18.5, 18.1, 17.7, 17.2,
    16.9, 16.5, 16.1, 15.6, 15.2, 14.7, 14.3, 13.8, 13.4, 13.1, 11.9],
  [24.7, 24.4, 24.1, 23.7, 23.1, 22.6, 22.2, 21.7, 21.2, 20.6, 20.2, 19.7, 19.2, 18.8, 18.3, 17.8, 17.4, 16.8],
  [42.8, 36.1, 33.4, 33.1, 29.6, 29, 28.2, 26.4, 25, 24.6, 24.3, 22, 20.5, 18.6, 17.5],
  [50, 48.3, 46.7, 44.8, 41.7, 37.6, 31.6, 31.1, 30.1, 29.1, 27.5, 26.7, 25, 24.3, 23.7, 22.8, 22, 19.6, 18.7, 15.9],
  groupMedv
];

const taxLevels = [187, 193, 198, 216, 223, 224, 226, 233, 241, 242, 243, 244, 252, 254, 255, 256, 264, 266, 270, 273, 274, 276, 277,
  279, 281, 284, 287, 289, 293, 296, 300, 304, 307, 311, 315, 329, 334, 337, 345, 348, 352, 358, 370, 384, 391, 398, 403, 411, 422, 430,
  432, 437, 469, 666, 711];
const taxMedv = [
  [30.1, 21.9, 21.4, 20.9, 20.5, 18.7, 17.2, 15.7],
  [50, 39.8, 38, 37.3, 36.2, 32.4, 29.6, 26.4],
  [50],
  [46, 45.4, 35.4, 34.9, 33.1],
  [36.2, 35.2, 33.4, 28.7, 28.1, 25, 24.4, 22.2, 21.1, 20.6, 20, 19.4, 19, 18.5],
  [50, 48.5],
  [35.4],
  [26.6, 25.2, 24.7, 21.2, 19.8, 19.4, 16.7, 14.4],
  [20.1],
  [25, 23.4, 21.7, 20.5, 19.8],
  [44, 37.3],
  [28.5, 28.1, 27.5, 26.6, 24, 22.5, 22],
  [34.7, 30.7],
  [33.2, 32.7, 32, 29],
  [50],
  [31.6],
  [50, 48.5, 43.5, 43.1, 36.4, 35.8, 33.8, 31, 30.5, 30.1, 29.1],
  [23.1],
  [28.7, 25, 24.1, 23.1, 22, 20.6],
  [11.9],
  [28.5, 24, 22.4, 21.7, 20.6],
  [43.8, 38.7, 33.1, 28.7, 28.2, 25, 24.4, 23.9, 23.1, 22, 21.2, 19.5],
  [24.7, 23.6, 22.6],
  [24.8, 20.3, 19],
  [28.1, 24.7, 22.9, 21.4],
  [32.7, 32.2, 25, 23.3, 22, 19.6, 18.9, 16],
  [24.8, 24, 23.1, 22.3, 20.6, 18.4],
  [28.5, 27.1, 23.9, 22, 20.1],
  [24.7, 23.5, 22],
  [30.1, 29.6, 24.4, 23.7, 22.8],
  [24, 23.3, 22.6, 20],
  [24.2, 22.8, 21.3],
  [50, 48.5, 46.7, 44.8, 41.7, 37.6, 31.6, 31.1, 30.1, 29.1, 27.5, 26.7, 25, 24.3, 23.9, 23.5, 23.1, 22.8, 22.2, 21.7, 21.2, 20.6, 20,
    19.6, 18.6, 17.8, 17.2, 16.5, 15.6, 15, 14.4, 13.8, 13.3, 12.7],
  [27.1, 24.7, 23.1, 21.7, 20.2, 18.9, 16.6, 15],
  [22, 21],
  [34.6, 33.4, 33, 30.3, 29.6, 26.4, 26.1, 24.4, 22, 20.6, 18.3, 17.5],
  [26.6, 23, 20.6, 18],
  [23.5, 19.4],
  [22, 20.9, 17.3],
  [42.3, 24.1],
  [23.1, 17.4, 17.1],
  [28.9, 24.8, 22.6],
  [31.3, 24],
  [27.4, 26.6, 21.7, 20.6, 20, 19.5, 19, 18.6],
  [24.5, 23.1, 21.7, 21.1, 20, 18.3, 17.5, 16.8],
  [36.9, 36.1, 34.9, 32.2, 30.7, 29.8, 24.1, 21.4, 20.8, 20.1],
  [50, 50, 41.3, 34.9, 32.9, 27, 25, 23.8, 23.1, 22.2, 21.7, 19.9, 19.4, 17.8, 15.6, 15.2, 14.5, 13.8, 13.1, 11.7],
  [24.1, 18.7],
  [16.5],
  [22.8, 19.9, 19.5, 18.9],
  [22.8, 21.2, 20.6, 19.3, 18.5],
  [22.9, 19.6, 19.1, 18.5, 17.8, 16.5, 15.6, 14.9, 14.1, 13.4],
  [18.9],
  groupMedv,
  [20.1, 15.2, 13.6, 8.1, 7]
];

const ptratioLevels = [12.6, 13, 13.6, 14.4, 14.7, 14.8, 14.9, 15.1, 15.2, 15.3, 15.5, 15.6, 15.9, 16, 16.1, 16.4, 16.6, 16.8, 16.9, 17,
  17.3, 17.4, 17.6, 17.8, 17.9, 18, 18.2, 18.3, 18.4, 18.5, 18.6, 18.7, 18.8, 18.9, 19, 19.1, 19.2, 19.6, 19.7, 20.1, 20.2, 20.9, 21,
  21.1, 21.2, 22];
const ptratioMedv = [
  [34.7, 33.3, 30.3],
  [50, 50, 48.8, 43.5, 43.1, 36.5, 36, 33.8, 31, 30.5, 30.1, 22.9],
  [50],
  [50],
  [50, 48.5, 42.3, 41.3, 27, 25, 24.5, 24.1, 23.4, 22.8, 22.2, 21.4, 20.2, 19.4, 18.9, 18, 17.5, 16.8, 15.6, 14.9, 14.1, 13.4, 11.8],
  [29.1, 24.7, 22.4],
  [46, 45.4, 35.4, 35],
  [31.6],
  [37, 36.4, 35, 32, 30.5, 30, 27.1, 23, 21.9, 19.2, 16.5, 15.2],
  [32.2, 24, 22],
  [32.7],
  [31.2, 29.1],
  [44, 16.5],
  [28.5, 27.2, 23.9, 21.7, 20.3],
  [33.1, 26.4, 23.6, 22, 19.4],
  [28.7, 23.2, 22.6, 22, 21.4, 21],
  [30, 29.4, 25, 24.4, 23.8, 23.1, 22.5, 22, 20.1],
  [25, 23.4, 20.5, 19.8],
  [22.6, 19.5, 19.1, 17.1],
  [35, 32.9, 30, 24.5],
  [24.8],
  [50, 48.3, 46.7, 44.8, 41.7, 37.6, 31.6, 31.1, 30.1, 29.1, 27.5, 26.7, 25.1, 24.4, 24, 21.8],
  [33.2, 32.7, 32, 31.2, 29.1, 24],
  [50, 39.8, 38, 37.3, 36.2, 34.6, 32.7, 29.6, 28.7, 26.4, 25, 23.6, 23.1, 22.6, 22, 21.5, 21, 20.6, 19.8, 19.3, 18.8, 18.2],
  [35.4, 26.6, 25.8, 24.6, 21.2, 20.2, 19.6, 16.6, 14.4],
  [43.8, 38.7, 33.3, 28.4, 21.4],
  [25, 23.1, 20.6, 20],
  [35, 30.7, 24.2, 18.5],
  [36.1, 33.4, 28.4, 23.7, 22.8, 22.2, 21.5, 20.8, 20.1, 19.4, 17.9, 16.2],
  [26.6, 24, 22.5, 22],
  [35.2, 33, 28.1, 25, 24.5, 23.6, 22.8, 22.1, 21.3, 20.6, 19.6],
  [36.2, 33.4, 28.7, 24.2, 21.4, 20.9, 20.4],
  [17.8, 17.4],
  [22, 21, 17.5],
  [28, 24.7, 24, 23],
  [42.8, 29.6, 26.4, 24.8, 24.3, 22, 21.1, 20.3, 19.4, 18.5, 17.1, 15.7],
  [37.3, 28.5, 27.9, 25, 24.4, 23.9, 23.2, 22.6, 21.4, 20.8, 20, 19.1, 18.2, 17.6, 16.8],
  [25, 24.4, 23.8, 23.1, 22.5, 20.5, 20.3, 18.6],
  [26.6, 25, 23.4, 22.8, 22, 19.8, 19.4, 18.8, 16.1],
  [20.2, 15.2, 13.8, 8.4, 7.2],
  groupMedv,
  [27.5, 26.6, 21.8, 20.5, 20, 19.6, 19.1, 18.6],
  [24.1, 23.3, 22.6, 22, 21.2, 20.6, 19.6, 18.4, 17.5, 17, 16.1, 15.4, 14.9, 14.4, 13.8, 13.1, 12.5, 11.9],
  [19],
  [23.1, 19.7, 19.3, 18.9, 18.2, 17.7, 17.1, 16.1, 15.6, 14.5, 13.9, 13.4],
  [20.6, 18.3]
];

const bPts = [
  [0.32, 13.5], [2.3, 15], [2.9, 13.5], [3.5, 11.7], [6.1, 15], [7.2, 8.3], [8.7, 8.7], [9.9, 12.7], [16.2, 8.8], [18.6, 11], [21.2, 7.6],
  [21.7, 19.2], [24.3, 10.3], [26.7, 9.6], [27, 7.3], [28.7, 18], [34.8, 17.3], [42.6, 11.8], [48.4, 8.5], [50.1, 14.2], [60.6, 9.5],
  [68.7, 8.5], [70.7, 18.7], [81.4, 14.2], [82.9, 14.5], [87.8, 15.5], [88.4, 13.3], [88.1, 7], [96.8, 11.2], [97.7, 16.1], [100.3, 14.2],
  [100.6, 11.7], [109.9, 13.5], [127.2, 10.5], [131.3, 23.2], [169.3, 15.6], [172.8, 13.9], [179.1, 27.5], [211, 16.3], [227.5, 23.9],
  [232.5, 13.3], [240.3, 25], [240.6, 10.8], [248.4, 13.5], [255.4, 16.5], [261.7, 19.5], [263.2, 15.6], [272.5, 14.9], [285.8, 8.9],
  [289.3, 20.3], [291.6, 20.8], [292.2, 17.4], [297.4, 23.9], [303.2, 13.9], [303.7, 13.3], [304.3, 13.5], [306.4, 15], [314.8, 17.3],
  [316.2, 21.9], [318.3, 14.8], [318.8, 16.7], [318.6, 8.3], [320.3, 14.2], [320.9, 16.9], [329.6, 8.7], [330.1, 22.3], [331.3, 19.2],
  [332.5, 27.9], [334.5, 19.9], [338.6, 6.4], [338.8, 27.1], [341.4, 20.3], [341.7, 19.8], [343.2, 15.4], [344.3, 7], [345.2, 18.4],
  [348.1, 50], [349, 23.7], [349.6, 19.2], [349.6, 12.1], [350.7, 19.9], [350.7, 16.1], [352.5, 15.5], [353, 14], [353.3, 16.9],
  [353.9, 24.3], [354.5, 30.3], [354.8, 22], [355.1, 27.5], [355.4, 15.4], [357.4, 17.8], [358, 28.4], [358.8, 15.8], [359.4, 13.3],
  [360, 12.9], [360.3, 29], [362, 19.5], [363.2, 14], [364.6, 23.3], [364.9, 17.3], [366.1, 50], [368.4, 22.6], [369.6, 50], [369.9, 19.5],
  [370.4, 12], [371, 17.8], [371.9, 29], [371.9, 24.1], [372.8, 22], [373, 10.3], [373.3, 31.5], [373.9, 17.6], [374.5, 50], [375.7, 50],
  [374.8, 29.9], [375.7, 31.4], [376.2, 21.4], [376.2, 17.6], [376.2, 12], [376.8, 29.4], [376.8, 24.5], [377.4, 46.1], [377.4, 46.6],
  [377.7, 19.2], [378, 15.8], [378.6, 25.1], [378.8, 48.3], [379.1, 23], [379.7, 14.6], [380.3, 31.7], [380.6, 20.3], [380.9, 23.7],
  [382, 50], [382.3, 18.4], [382.9, 21.4], [383.5, 26.4], [383.8, 30.2], [384.3, 50], [384.6, 5.2], [384.9, 16.1], [385.2, 44.9],
  [385.5, 23.7], [385.8, 19.2], [386.1, 41.9], [386.4, 32], [386.4, 10.8], [386.7, 44], [387, 48.7], [387.2, 38.5], [387.2, 22.2],
  [387.5, 45.5], [387.8, 50], [387.8, 28], [388.1, 17.6], [388.4, 36.2], [388.7, 43.2], [388.7, 50], [389, 25.6], [389.3, 15.4],
  [389.6, 30.2], [389.9, 50], [390.1, 12.7], [390.1, 38.6], [390.4, 33.6], [390.7, 24.6], [390.7, 20.7], [391, 50], [391.3, 8.6],
  [391.6, 32.8], [391.9, 28.3], [391.9, 37.7], [392.2, 50], [392.5, 18.8], [392.5, 30.9], [392.8, 43.4], [393, 23.7], [393, 34.7],
  [393.3, 48.5], [393.6, 14.6], [393.9, 26.7], [394.2, 36.6], [394.2, 10.1], [394.5, 32], [394.8, 21.4], [395.1, 50], [395.1, 29.8],
  [395.4, 39.8], [395.7, 12.3], [396, 42.7], [396.2, 37.2], [396.2, 30.9], [396.5, 7], [390.5, 22.8], [391.3, 21.9], [392.7, 20.4],
  [393.5, 19.6], [394.1, 23], [394.7, 18.3], [395.2, 21], [395.6, 16.8], [394.3, 25.2], [393.1, 17.5], [391.9, 24.3], [390.9, 16.2],
  [389.8, 21.6], [388.9, 19.9], [392.2, 15.3], [393.8, 13.6], [395, 27.3], [395.5, 23.6], [396, 19.5], [395.9, 14.8], [394.5, 12.9],
  [392.6, 26.1], [391.1, 29.1], [390.2, 26.7], [389.5, 24.4], [388.3, 22.9], [387.6, 20.6], [386.9, 18.1], [386.2, 26.9], [385.6, 21.1]
];
const b397Medv = [42.8, 38.8, 37, 35, 33.2, 31, 29, 27.5, 26.5, 25.4, 25, 24.6, 24.2, 23.8, 23.4, 23, 22.6, 22.2, 21.8, 21.4, 21, 20.6,
  20.2, 19.8, 19.4, 19, 18.6, 18.2, 17.8, 17.4, 17, 16.6, 16.2, 15.8, 15.4, 15, 14.6, 14.2, 13.8, 13.4, 13, 12.6, 12.2, 11.8, 11.4, 11,
  10.5, 10, 9, 8.3, 7.2, 6, 5];

const lstatPts = [
  [1.73, 50], [1.88, 50], [1.96, 35], [2.46, 41.7], [2.9, 50], [3.0, 50], [3.16, 50], [3.29, 50], [3.37, 50], [2.89, 36.3], [2.94, 33.5],
  [2.99, 46], [3.12, 44.4], [3.12, 42.3], [3.18, 43.8], [3.15, 37.7], [2.94, 32], [3.31, 28.5], [3.52, 42.9], [3.55, 44], [3.55, 37.3],
  [3.52, 32.5], [3.52, 29.7], [3.6, 24.8], [3.71, 50], [3.73, 45.3], [3.79, 48.5], [3.89, 46.9], [3.94, 48.5], [3.81, 31.7], [3.94, 31.8],
  [4.02, 34.7], [4.1, 44.9], [4.1, 33.4], [4.18, 39], [4.29, 31], [4.37, 29], [4.42, 33], [4.47, 50], [4.63, 50], [4.53, 29.8], [4.55, 23.1],
  [4.58, 34.9], [4.58, 41.4], [4.63, 31.4], [4.66, 25.3], [4.71, 28.3], [4.77, 35.3], [4.79, 37.9], [4.82, 27], [4.85, 23.6], [4.87, 33.1],
  [4.92, 30.5], [4.98, 22.7], [5, 37], [5.06, 37.3], [5.03, 31.2], [5.08, 50], [5.08, 24.4], [5.11, 25.3], [5.16, 21.9], [5.19, 33.6],
  [5.24, 27.5], [5.27, 32.3], [5.3, 23.7], [5.32, 36.2], [5.37, 35], [5.4, 29.7], [5.45, 22.9], [5.48, 26.8], [5.51, 24.3], [5.53, 20.5],
  [5.59, 32.7], [5.61, 25.3], [5.64, 22.7], [5.69, 32.4], [5.72, 27.5], [5.77, 24.6], [5.8, 28.6], [5.82, 22.3], [5.85, 25.5], [5.9, 49],
  [5.93, 23.6], [5.98, 24.6], [6.04, 22.4], [6.09, 33.6], [6.09, 27], [6.14, 24.9], [6.17, 33.6], [6.22, 23.7], [6.25, 28.6], [6.3, 25.1],
  [6.33, 22.7], [6.38, 31.8], [6.38, 24.3], [6.43, 33.6], [6.46, 26.3], [6.49, 22.2], [6.51, 35.3], [6.57, 34.4], [6.57, 24.4], [6.62, 23.6],
  [6.67, 25.3], [6.7, 22.3], [6.72, 20.8], [6.78, 25.1], [6.83, 30.1], [6.86, 27.2], [6.88, 23.7], [6.94, 36.2], [6.96, 24.9], [7.02, 27.9],
  [7.04, 22.9], [7.1, 23.7], [7.12, 26.2], [7.17, 29.2], [7.23, 43.1], [7.25, 24.9], [7.31, 23.6], [7.33, 27], [7.39, 50], [7.39, 24.3],
  [7.44, 23.1], [7.47, 25.3], [7.49, 28.3], [7.52, 22.3], [7.57, 39.9], [7.6, 30.1], [7.63, 24], [7.68, 26.8], [7.7, 20.5], [7.76, 36.2],
  [7.78, 22], [7.81, 18.8], [7.84, 19.7], [7.84, 32.3], [7.86, 12.1], [7.92, 25], [7.97, 33.1], [7.97, 21.1], [8.02, 23.6], [8.05, 18.3],
  [8.08, 36.6], [8.13, 22.3], [8.15, 29.2], [8.21, 20.3], [8.26, 21.8], [8.31, 22.7], [8.34, 24.6], [8.42, 20.5], [8.47, 23.6], [8.55, 30.3],
  [8.6, 25.3], [8.63, 16.6], [8.68, 26.6], [8.71, 21.8], [8.76, 20.8], [8.82, 21.4], [8.84, 22.7], [8.9, 50], [8.92, 28.3], [8.95, 21],
  [9, 23.6], [9.03, 20.1], [9.08, 24.2], [9.11, 22.3], [9.16, 18.8], [9.19, 21.4], [9.21, 24.6], [9.27, 20.5], [9.29, 22.7], [9.35, 24.9],
  [9.37, 21.8], [9.43, 36.2], [9.45, 23.6], [9.48, 19.2], [9.53, 50], [9.56, 25.3], [9.58, 33.8], [9.61, 20.7], [9.64, 28.3], [9.66, 22.4],
  [9.72, 27], [9.74, 20.1], [9.8, 24.9], [9.82, 21.8], [9.88, 19.2], [9.93, 27.5], [9.98, 23.6], [10.03, 21], [10.09, 15], [10.11, 22.7],
  [10.17, 25.3], [10.19, 20.5], [10.25, 19.7], [10.3, 22.3], [10.35, 21.4], [10.4, 23.6], [10.46, 18.8], [10.51, 20.5], [10.56, 22.7],
  [10.62, 19.4], [10.67, 21.1], [10.72, 23.1], [10.8, 18.3], [10.86, 22.7], [10.93, 24], [10.99, 21.8], [11.04, 24.9], [11.09, 22.3],
  [11.15, 20.5], [11.23, 18.3], [11.28, 31.1], [11.33, 22.7], [11.38, 21.4], [11.44, 23.6], [11.49, 16.3], [11.54, 22.3], [11.6, 20.5],
  [11.65, 29.8], [11.68, 24], [11.73, 17.9], [11.78, 20.1], [11.83, 21.8], [11.89, 16.1], [11.94, 23.1], [11.99, 19.2], [12.07, 15.3],
  [12.13, 27.9], [12.18, 21.4], [12.23, 24], [12.28, 18.8], [12.34, 20.5], [12.39, 22.3], [12.44, 17.5], [12.5, 23.1], [12.55, 19.7],
  [12.6, 21.4], [12.66, 16.8], [12.71, 22.7], [12.76, 20.5], [12.81, 18.3], [12.87, 22], [12.92, 23.1], [12.97, 19.7], [13.03, 14.7],
  [13.08, 22.3], [13.13, 29.6], [13.18, 21], [13.24, 22.5], [13.29, 18.8], [13.34, 23.7], [13.4, 20.1], [13.45, 15], [13.5, 21.8],
  [13.56, 24.6], [13.61, 20.5], [13.66, 22.7], [13.71, 19.4], [13.77, 21.4], [13.85, 17.9], [13.9, 23.3], [13.95, 20.5], [14.01, 26.3],
  [14.06, 19.2], [14.11, 21.8], [14.16, 18.3], [14.22, 21], [14.27, 17], [14.32, 24], [14.38, 19.7], [14.43, 16.8], [14.48, 11],
  [14.54, 22.7], [14.59, 18.3], [14.64, 24.6], [14.69, 17], [14.75, 20.5], [14.8, 30.8], [14.85, 16.4], [14.91, 18.8], [14.96, 21],
  [15.04, 15], [15.09, 17.9], [15.14, 20.1], [15.2, 16.1], [15.25, 22.3], [15.3, 18.8], [15.36, 13.3], [15.41, 17], [15.46, 20.3],
  [15.51, 18.3], [15.57, 11.8], [15.65, 19.2], [15.7, 10.1], [15.75, 21], [15.81, 14.2], [15.86, 17.9], [15.91, 19.9], [15.96, 22.3],
  [16.02, 16.1], [16.07, 13.1], [16.12, 18.5], [16.18, 19.9], [16.23, 14.8], [16.28, 17.3], [16.36, 12.6], [16.42, 19.4], [16.47, 16.6],
  [16.52, 17.9], [16.57, 13.5], [16.63, 15.7], [16.68, 19], [16.76, 12.1], [16.81, 17.5], [16.87, 14.7], [16.94, 16.1], [17.02, 18.8],
  [17.08, 13.5], [17.13, 15.9], [17.21, 10.3], [17.26, 17.5], [17.32, 15], [17.39, 13], [17.45, 16.4], [17.53, 18.3], [17.58, 13.7],
  [17.63, 25.7], [17.69, 15.3], [17.77, 17], [17.82, 13.1], [17.9, 14.8], [17.95, 17.7], [18, 22.7], [18.06, 9.7], [18.11, 15.7],
  [18.16, 13.8], [18.22, 19.2], [18.29, 14.3], [18.35, 13.1], [18.4, 15], [18.48, 16.1], [18.53, 17.9], [18.61, 19.7], [18.66, 16.7],
  [18.72, 23.1], [18.77, 15.3], [18.82, 15.7], [18.98, 13], [19.12, 27.2], [19.3, 13.1], [19.38, 12.7], [19.51, 17.2], [19.67, 14],
  [19.75, 27.5], [19.8, 8.3], [19.88, 14.3], [19.94, 8.8], [20.07, 16.2], [20.28, 13.6], [20.33, 12.1], [20.33, 7.2], [20.44, 15],
  [20.65, 8.8], [20.81, 11.2], [21.05, 13.6], [21.07, 10.8], [21.15, 19.7], [21.23, 17.2], [21.26, 13.6], [21.31, 19.2], [21.37, 13.6],
  [21.45, 21.8], [21.47, 15.3], [21.52, 10.7], [21.79, 10.3], [22.11, 10.5], [22.61, 12.7], [22.77, 8.3], [22.88, 12.7], [22.98, 5],
  [23.11, 19.9], [23.25, 13.8], [23.3, 13.1], [23.38, 11.8], [23.56, 11.2], [23.7, 12.7], [23.83, 11], [23.93, 19.2], [23.96, 7],
  [24.04, 9.7], [24.09, 13.3], [24.17, 14], [24.38, 8.3], [24.62, 12.3], [24.91, 12], [25.42, 17.2], [25.68, 9.8], [25.84, 7.5],
  [26.4, 17.2], [26.45, 15.7], [26.5, 8.8], [26.64, 10.3], [26.79, 5.7], [26.85, 13.4], [27.27, 15.7], [27.4, 8.6], [27.72, 13.3],
  [27.8, 13.8], [28.33, 17.9], [28.3, 10.5], [29.1, 7.5], [29.31, 11.8], [29.52, 14.7], [29.57, 23.6], [29.73, 8.1], [29.94, 16.4],
  [30, 6.4], [30.63, 10.3], [30.66, 8.8], [30.63, 5.1], [30.82, 14.4], [30.82, 7.3], [32.04, 7.5], [34.05, 8.4], [34.39, 17.9],
  [34.42, 14.4], [34.79, 13.8], [37.01, 7], [37.97, 13.8]
];

// least-squares lines as drawn in the figure: [x at the smallest value, x at the largest], [MEDV there]
const crimFit = [[0.006, 88.98], [24.03, -12.91]];
const znFit = [[0, 100], [20.92, 35.13]];
const indusFit = [[0.46, 27.74], [29.46, 11.76]];
const chasFit = [[0, 1], [22.09, 28.44]];
const noxFit = [[0.385, 0.871], [28.29, 11.81]];
const rmFit = [[3.561, 8.78], [-2.26, 45.25]];
const ageFit = [[2.9, 100], [30.62, 18.66]];
const disFit = [[1.13, 12.13], [19.62, 31.63]];
const radFit = [[1, 24], [25.98, 16.71]];
const taxFit = [[187, 711], [28.19, 14.77]];
const ptratioFit = [[12.6, 22], [35.17, 14.89]];
const bFit = [[0.32, 396.9], [10.56, 23.88]];
const lstatFit = [[1.73, 37.97], [32.91, -1.52]];

// tick values shown on each axis
const medvTicks = [10, 20, 30, 40, 50];
const crimTicks = [0, 20, 40, 60, 80];
const znTicks = [0, 20, 40, 60, 80, 100];
const indusTicks = [0, 5, 10, 15, 20, 25];
const chasTicks = [0, 0.2, 0.4, 0.6, 0.8, 1];
const noxTicks = [0.4, 0.5, 0.6, 0.7, 0.8];
const rmTicks = [4, 5, 6, 7, 8, 9];
const ageTicks = [0, 20, 40, 60, 80, 100];
const disTicks = [2, 4, 6, 8, 10, 12];
const radTicks = [0, 5, 10, 15, 20, 25];
const taxTicks = [200, 300, 400, 500, 600, 700];
const ptratioTicks = [14, 16, 18, 20, 22];
const bTicks = [0, 50, 100, 150, 200, 250, 300, 350, 400];
const lstatTicks = [0, 5, 10, 15, 20, 25, 30, 35];

// ---- helpers ----
function pairs(list) {
  return list.map(([x, y]) => ({ x, y }));
}
function columns(levels, medv) {
  const pts = [];
  levels.forEach((x, i) => medv[i].forEach(y => pts.push({ x, y })));
  return pts;
}

const panels = [
  { name: 'CRIM', pts: pairs(crimPts), fit: crimFit, xt: crimTicks, yt: [-10, 0].concat(medvTicks) },
  { name: 'ZN', pts: columns(znLevels, znMedv), fit: znFit, xt: znTicks, yt: medvTicks },
  { name: 'INDUS', pts: pairs(indusPts).concat(columns(indusLevels, indusMedv)), fit: indusFit, xt: indusTicks, yt: medvTicks },
  { name: 'CHAS', pts: columns(chasLevels, chasMedv), fit: chasFit, xt: chasTicks, yt: medvTicks },
  { name: 'NOX', pts: pairs(noxPts), fit: noxFit, xt: noxTicks, yt: medvTicks },
  { name: 'RM', pts: pairs(rmPts), fit: rmFit, xt: rmTicks, yt: [0].concat(medvTicks) },
  { name: 'AGE', pts: pairs(agePts).concat(columns([100], [age100Medv])), fit: ageFit, xt: ageTicks, yt: medvTicks },
  { name: 'DIS', pts: pairs(disPts), fit: disFit, xt: disTicks, yt: medvTicks },
  { name: 'RAD', pts: columns(radLevels, radMedv), fit: radFit, xt: radTicks, yt: medvTicks },
  { name: 'TAX', pts: columns(taxLevels, taxMedv), fit: taxFit, xt: taxTicks, yt: medvTicks },
  { name: 'PTRATIO', pts: columns(ptratioLevels, ptratioMedv), fit: ptratioFit, xt: ptratioTicks, yt: medvTicks },
  { name: 'B', pts: pairs(bPts).concat(columns([396.9], [b397Medv])), fit: bFit, xt: bTicks, yt: medvTicks },
  { name: 'LSTAT', pts: pairs(lstatPts), fit: lstatFit, xt: lstatTicks, yt: [0].concat(medvTicks) }
];

// matplotlib-style autoscale: data limits plus 5% on each side
function padded(vals) {
  const lo = Math.min(...vals), hi = Math.max(...vals);
  const m = (hi - lo) * 0.05;
  return [lo - m, hi + m];
}
function fmt(v, decimals) {
  return (v < 0 ? '\u2212' : '') + Math.abs(v).toFixed(decimals);
}

// frame on all four sides + panel title
const framePlugin = {
  id: 'frame',
  afterDraw(chart, args, opts) {
    const { ctx, chartArea: a } = chart;
    ctx.save();
    ctx.strokeStyle = '#000';
    ctx.lineWidth = 1;
    ctx.strokeRect(Math.round(a.left) - 0.5, Math.round(a.top) - 0.5, Math.round(a.right - a.left) + 1, Math.round(a.bottom - a.top) + 1);
    ctx.fillStyle = '#000';
    ctx.font = '12px "DejaVu Sans"';
    ctx.textAlign = 'center';
    ctx.textBaseline = 'middle';
    ctx.fillText(opts.title, (a.left + a.right) / 2, a.top - 10.5);
    ctx.restore();
  }
};

Chart.defaults.font.family = '"DejaVu Sans", sans-serif';
Chart.defaults.font.size = 10;
Chart.defaults.color = '#000';

const fig = document.getElementById('figure');

panels.forEach((p, k) => {
  const box = document.createElement('div');
  box.className = 'panel';
  box.style.top = Math.round(k * 423.6) + 'px';
  const canvas = document.createElement('canvas');
  canvas.width = 1451;
  canvas.height = 424;
  box.appendChild(canvas);
  fig.appendChild(box);

  const fitPts = p.fit[0].map((x, i) => ({ x, y: p.fit[1][i] }));
  const xr = padded(p.pts.map(d => d.x).concat(p.fit[0]));
  const yr = padded(p.pts.map(d => d.y).concat(p.fit[1]));
  const xDec = p.xt.some(t => !Number.isInteger(t)) ? 1 : 0;

  new Chart(canvas, {
    type: 'scatter',
    data: {
      datasets: [
        {
          data: fitPts,
          showLine: true,
          borderColor: '#ff0000',
          borderWidth: 1.5,
          pointRadius: 0,
          order: 0
        },
        {
          data: p.pts,
          backgroundColor: '#1f77b4',
          pointRadius: 3.4,
          pointBorderWidth: 0,
          borderWidth: 0,
          order: 1
        }
      ]
    },
    options: {
      responsive: false,
      animation: false,
      events: [],
      layout: { padding: { top: 23, right: 7, bottom: 0, left: 0 } },
      plugins: {
        legend: { display: false },
        tooltip: { enabled: false },
        frame: { title: p.name }
      },
      scales: {
        x: {
          type: 'linear',
          min: xr[0],
          max: xr[1],
          afterFit: s => { s.height = 48; },
          afterBuildTicks: s => { s.ticks = p.xt.map(v => ({ value: v })); },
          ticks: { autoSkip: false, maxRotation: 0, padding: 2, callback: v => fmt(v, xDec) },
          grid: { drawOnChartArea: false, drawTicks: true, tickLength: 4, color: '#000' },
          border: { display: false },
          title: { display: true, text: p.name, padding: { top: 0, bottom: 16.6 } }
        },
        y: {
          type: 'linear',
          min: yr[0],
          max: yr[1],
          afterFit: s => { s.width = 49; },
          afterBuildTicks: s => { s.ticks = p.yt.map(v => ({ value: v })); },
          ticks: { autoSkip: false, padding: 4, callback: v => fmt(v, 0) },
          grid: { drawOnChartArea: false, drawTicks: true, tickLength: 4, color: '#000' },
          border: { display: false },
          title: { display: true, text: 'MEDV', padding: { top: 12.5, bottom: 0 } }
        }
      }
    },
    plugins: [framePlugin]
  });
});
</script>
</body>
</html>
